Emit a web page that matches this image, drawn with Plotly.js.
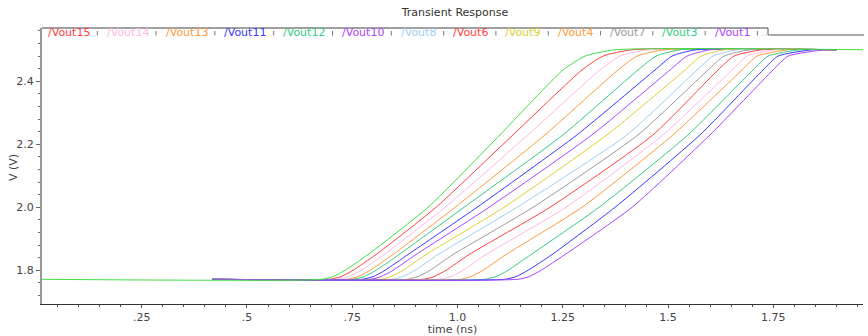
<!DOCTYPE html>
<html>
<head>
<meta charset="utf-8">
<script src="https://cdn.plot.ly/plotly-3.0.1.min.js"></script>
<style>html,body{margin:0;padding:0;background:#fff;}#chart{width:868px;height:336px;}</style>
</head>
<body>
<div id="chart"></div>
<script>
// ---- data (time in ns, voltage in V) ----
const traceNames = ["/Vout0","/Vout15","/Vout14","/Vout13","/Vout12","/Vout11","/Vout10","/Vout9",
                    "/Vout8","/Vout7","/Vout6","/Vout5","/Vout4","/Vout3","/Vout2","/Vout1"];
const traceColors = ["#40e040","#ff4040","#ffb8e8","#ff9a3c","#33cc80","#3838ff","#aa44ff","#e0d030",
                     "#9cd0f0","#9a9a9a","#ff4040","#ffb8e8","#ff9a3c","#33cc80","#3838ff","#aa44ff"];
// voltage levels at which the crossing times were read
const riseV = [1.7715, 1.78, 1.80, 1.85, 2.00, 2.23, 2.436, 2.48, 2.50];
const riseT_Vout0  = [0.6783,0.7044,0.7329,0.7875,0.9300,1.1010,1.2506,1.3029,1.3741];
const riseT_Vout15 = [0.6973,0.7234,0.7519,0.8065,0.9490,1.1319,1.2957,1.3456,1.4145];
const riseT_Vout14 = [0.7163,0.7424,0.7709,0.8255,0.9704,1.1675,1.3385,1.3860,1.4525];
const riseT_Vout13 = [0.7377,0.7638,0.7923,0.8469,0.9942,1.2079,1.3813,1.4264,1.4905];
const riseT_Vout12 = [0.7519,0.7780,0.8065,0.8611,1.0155,1.2506,1.4287,1.4715,1.5285];
const riseT_Vout11 = [0.7733,0.7994,0.8279,0.8825,1.0464,1.2839,1.4691,1.5095,1.5665];
const riseT_Vout10 = [0.7923,0.8184,0.8469,0.9015,1.0749,1.3195,1.5048,1.5451,1.5998];
const riseT_Vout9  = [0.8160,0.8422,0.8706,0.9253,1.1105,1.3551,1.5404,1.5784,1.6330];
const riseT_Vout8  = [0.8445,0.8706,0.8991,0.9538,1.1414,1.4026,1.5689,1.6069,1.6639];
const riseT_Vout7  = [0.8801,0.9063,0.9348,0.9894,1.1794,1.4287,1.5950,1.6330,1.6947];
const riseT_Vout6  = [0.9181,0.9443,0.9728,1.0274,1.2197,1.4644,1.6187,1.6567,1.7232];
const riseT_Vout5  = [0.9585,0.9846,1.0131,1.0677,1.2577,1.4881,1.6520,1.6876,1.7541];
const riseT_Vout4  = [1.0060,1.0321,1.0606,1.1153,1.2957,1.5119,1.6757,1.7114,1.7850];
const riseT_Vout3  = [1.0654,1.0915,1.1200,1.1746,1.3361,1.5475,1.7019,1.7375,1.8135];
const riseT_Vout2  = [1.1129,1.1390,1.1675,1.2245,1.3741,1.5760,1.7256,1.7612,1.8420];
const riseT_Vout1  = [1.1438,1.1699,1.1984,1.2554,1.4145,1.5998,1.7494,1.7850,1.8728];
const riseTimes = [riseT_Vout0,riseT_Vout15,riseT_Vout14,riseT_Vout13,riseT_Vout12,riseT_Vout11,riseT_Vout10,
                   riseT_Vout9,riseT_Vout8,riseT_Vout7,riseT_Vout6,riseT_Vout5,riseT_Vout4,riseT_Vout3,riseT_Vout2,riseT_Vout1];
const startT = 0.417;       // traces start here
const endT = 1.90;          // traces end here
const firstStartT = 0.0;    // first (green) trace starts earlier
const firstEndT = 1.97;     // and ends later
const highV = 2.50;

const legendOrder = ["/Vout15","/Vout14","/Vout13","/Vout11","/Vout12","/Vout10","/Vout8",
                     "/Vout6","/Vout9","/Vout4","/Vout7","/Vout3","/Vout1"];

const xTickVals = [0.25,0.5,0.75,1.0,1.25,1.5,1.75];
const xTickText = [".25",".5",".75","1.0","1.25","1.5","1.75"];

// ---- build traces ----
const traces = [];
const order = [];
for (let i = 1; i < traceNames.length; i++) order.push(i);
order.push(0);
order.forEach(i => {
  const t0 = i === 0 ? firstStartT : startT;
  const t1 = i === 0 ? firstEndT : endT;
  traces.push({
    x: [t0].concat(riseTimes[i]).concat([t1]),
    y: [riseV[0]].concat(riseV).concat([highV]),
    type: "scatter", mode: "lines", name: traceNames[i],
    line: {color: traceColors[i], width: 1, shape: "spline", smoothing: 0.55},
    hoverinfo: "skip", showlegend: false
  });
});

// ---- layout ----
const W = 868, H = 336, L = 42, R = 5, T = 28, B = 32;
const pw = W - L - R, ph = H - T - B;
const px = x => (x - L) / pw;
const py = y => (H - B - y) / ph;
const font = "DejaVu Sans, Verdana, sans-serif";

const annotations = [];
const shapes = [];
let lx = 46;
legendOrder.forEach((nm, k) => {
  const c = traceColors[traceNames.indexOf(nm)];
  annotations.push({xref:"paper", yref:"paper", x: px(lx), y: py(33), xanchor:"left", yanchor:"middle",
    text: nm, showarrow:false, font:{family:font, size:11, color:c}});
  const next = lx + 6.5 * nm.length + 13.3;
  const sx = next - 7.5;
  shapes.push({type:"line", xref:"paper", yref:"paper", x0:px(sx), x1:px(sx), y0:py(31), y1:py(35.5),
    line:{color:"#777", width:1}});
  if (k === legendOrder.length - 1) {
    annotations.push({xref:"paper", yref:"paper", x: px(sx + 1.5), y: py(33), xanchor:"left", yanchor:"middle",
      text: "...", showarrow:false, font:{family:font, size:11, color:"#ffb8e8"}});
  }
  lx = next;
});
// y-axis title placed as rotated text
annotations.push({xref:"paper", yref:"paper", x: px(13), y: py(168), xanchor:"center", yanchor:"middle",
  textangle: -90, text: "V (V)", showarrow:false, font:{family:font, size:11, color:"#444"}});
// legend frame
shapes.push({type:"line", xref:"paper", yref:"paper", x0:px(42), x1:px(768), y0:py(28), y1:py(28), line:{color:"#a0a0a0", width:2}});
shapes.push({type:"line", xref:"paper", yref:"paper", x0:px(768), x1:px(768), y0:py(28), y1:py(35), line:{color:"#555", width:1}});
shapes.push({type:"line", xref:"paper", yref:"paper", x0:px(768), x1:px(864), y0:py(35), y1:py(35), line:{color:"#555", width:1}});

const layout = {
  width: W, height: H,
  margin: {l: L, r: R, t: T, b: B, pad: 0},
  paper_bgcolor: "#fff", plot_bgcolor: "#fff",
  showlegend: false,
  title: {text: "Transient Response", x: 455 / W, xref: "container", xanchor: "center",
          y: 1 - 12 / H, yref: "container", yanchor: "middle",
          font: {family: font, size: 11, color: "#333"}},
  xaxis: {
    range: [0.0133, 1.963], showgrid: false, zeroline: false,
    showline: true, linecolor: "#333", linewidth: 1,
    tickmode: "array", tickvals: xTickVals, ticktext: xTickText,
    ticks: "outside", ticklen: 3, tickcolor: "#555",
    minor: {dtick: 0.05, tick0: 0, ticks: "outside", ticklen: 2, tickcolor: "#555", showgrid: false},
    tickfont: {family: font, size: 11, color: "#444"},
    title: {text: "time (ns)", standoff: 0, font: {family: font, size: 11, color: "#444"}}
  },
  yaxis: {
    range: [1.6930, 2.5692], showgrid: false, zeroline: false,
    showline: true, linecolor: "#999", linewidth: 2,
    tick0: 1.8, dtick: 0.2, tickformat: ".1f",
    ticks: "outside", ticklen: 4, tickcolor: "#666",
    minor: {dtick: 0.04, tick0: 1.8, ticks: "outside", ticklen: 2, tickcolor: "#666", showgrid: false},
    tickfont: {family: font, size: 11, color: "#444"}
  },
  annotations: annotations,
  shapes: shapes
};

Plotly.newPlot("chart", traces, layout, {staticPlot: true, displayModeBar: false});
</script>
</body>
</html>
